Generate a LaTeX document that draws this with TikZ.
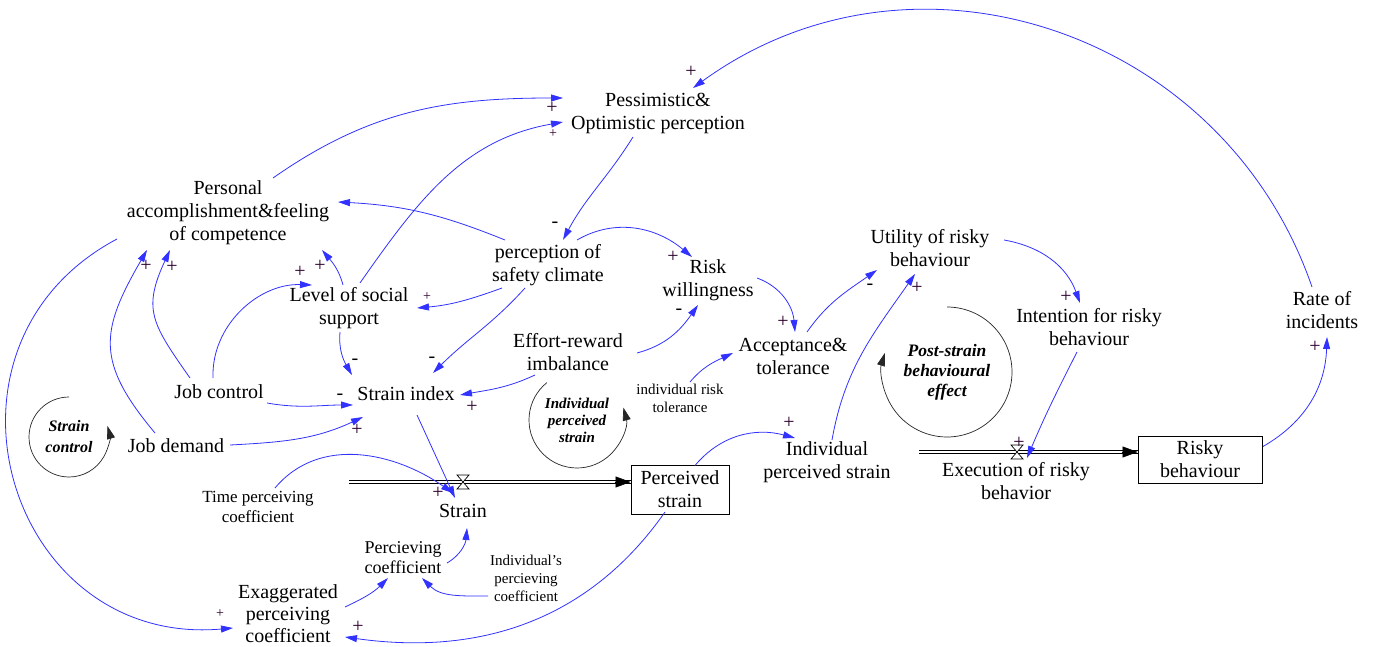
\documentclass[tikz,border=0pt]{standalone}
\usepackage{fontspec}
\setmainfont{Liberation Serif}
\usetikzlibrary{arrows.meta}
\definecolor{cblue}{RGB}{50,50,255}
\definecolor{pl}{RGB}{45,0,45}
\begin{document}
\begin{tikzpicture}[x=1pt,y=1pt,
 lab/.style={font=\fontsize{20}{23}\selectfont, align=center, inner sep=1pt},
 sml/.style={font=\fontsize{15}{18}\selectfont, align=center, inner sep=1pt},
 loopl/.style={font=\bfseries\itshape\fontsize{16}{21}\selectfont, align=center, inner sep=0pt},
 cn/.style={draw=cblue, line width=0.8pt, -{Triangle[length=12pt,width=7pt]}},
 pol/.style={font=\fontsize{20}{20}\selectfont, text=pl, inner sep=0pt},
 spol/.style={font=\fontsize{14}{14}\selectfont, text=pl, inner sep=0pt},
 neg/.style={font=\fontsize{20}{20}\selectfont, inner sep=0pt},
 box/.style={draw, line width=0.8pt, align=center, font=\fontsize{20}{23}\selectfont, inner sep=1pt},
 loopa/.style={draw=black!85, line width=0.7pt, -{Triangle[length=13pt,width=8pt]}},
 pipe/.style={draw=black, line width=0.7pt, double=white, double distance=2.6pt},
 pipetip/.style={draw=black, line width=0.5pt, -{Triangle[length=15pt,width=11pt]}},
 valve/.style={draw=black, line width=0.7pt, fill=white}
]
\fill[white] (0,0) rectangle (1373,646);
\useasboundingbox (0,0) rectangle (1373,646);

% variables
\node[lab] (pess) at (658,533) {Pessimistic\&\\Optimistic perception};
\node[lab] (pers) at (228,433) {Personal\\accomplishment\&feeling\\of competence};
\node[lab] (psc) at (548,381) {perception of\\safety climate};
\node[lab] (risk) at (708,366) {Risk\\willingness};
\node[lab] (lss) at (349,338) {Level of social\\support};
\node[lab] (eri) at (568,294) {Effort-reward\\imbalance};
\node[lab] (acc) at (793,290) {Acceptance\&\\tolerance};
\node[lab] (util) at (930,398) {Utility of risky\\behaviour};
\node[lab] (intent) at (1089,319) {Intention for risky\\behaviour};
\node[lab] (rate) at (1322,336) {Rate of\\incidents};
\node[lab] (jc) at (219,254) {Job control};
\node[lab] (si) at (406,252) {Strain index};
\node[lab] (jd) at (176,200) {Job demand};
\node[sml] (irt) at (680,248) {individual risk\\tolerance};
\node[lab] (ips) at (827,184) {Individual\\perceived strain};
\node[lab] (exec) at (1016,165) {Execution of risky\\behavior};
\node[lab, font=\fontsize{17}{20}\selectfont] (tpc) at (258,139) {Time perceiving\\coefficient};
\node[lab] (strain) at (463,135) {Strain};
\node[lab, font=\fontsize{18}{20}\selectfont] (pc) at (403,88) {Percieving\\coefficient};
\node[sml] (ipc) at (526,68) {Individual's\\percieving\\coefficient};
\node[lab, font=\fontsize{20}{22}\selectfont] (exag) at (288,32) {Exaggerated\\perceiving\\coefficient};

% stocks
\node[box, minimum width=124pt, minimum height=47pt] (rb) at (1200,186.5) {Risky\\behaviour};
\node[box, minimum width=98pt, minimum height=49pt] (ps) at (680,156.5) {Perceived\\strain};

% flows
\coordinate (s1) at (349,164);
\coordinate (s2) at (919,194);
\coordinate (v1) at (463,164);
\coordinate (v2) at (1017,194);
\draw[pipe] (s1) -- ([yshift=7.5pt]ps.west);
\draw[pipetip] ([shift={(-16,7.5)}]ps.west) -- ([yshift=7.5pt]ps.west);
\draw[pipe] (s2) -- ([yshift=7.5pt]rb.west);
\draw[pipetip] ([shift={(-16,7.5)}]rb.west) -- ([yshift=7.5pt]rb.west);
\draw[valve] ([shift={(-6,7)}]v1) -- ([shift={(6,7)}]v1) -- ([shift={(-6,-7)}]v1) -- ([shift={(6,-7)}]v1) -- cycle;
\draw[valve] ([shift={(-6,7)}]v2) -- ([shift={(6,7)}]v2) -- ([shift={(-6,-7)}]v2) -- ([shift={(6,-7)}]v2) -- cycle;

% loops
\node[loopl] (lp1) at (69,209) {Strain\\control};
\draw[loopa] ([shift={(90:40)}]lp1.center) arc[start angle=90,end angle=376,radius=40];
\node[loopl, font=\bfseries\itshape\fontsize{15}{17}\selectfont] (lp2) at (577,226) {Individual\\perceived\\strain};
\draw[loopa] ([shift={(129:48)}]lp2.center) arc[start angle=129,end angle=375,radius=48];
\node[loopl, font=\bfseries\itshape\fontsize{17.5}{20}\selectfont] (lp3) at (947,274) {Post-strain\\behavioural\\effect};
\draw[loopa] ([shift={(90:65)}]lp3.center) arc[start angle=90,end angle=-197,radius=65];

% connectors
\draw[cn] ([shift={(45,35)}]pers.center) to[out=35,in=180] ([shift={(-95,15)}]pess.center);
\draw[cn] ([shift={(11,25)}]lss.center) to[out=55,in=190] ([shift={(-95,-9)}]pess.center);
\draw[cn] ([shift={(-43,25)}]psc.center) to[out=158,in=-3] ([shift={(110,11)}]pers.center);
\draw[cn] ([shift={(-29,14)}]jc.center) to[out=125,in=245,looseness=1.3] ([shift={(-58,-37)}]pers.center);
\draw[cn] ([shift={(-21,13)}]jd.center) to[out=130,in=240,looseness=1.3] ([shift={(-81,-37)}]pers.center);
\draw[cn] ([shift={(-6,14)}]jc.center) to[out=92,in=178] ([shift={(-37,23)}]lss.center);
\draw[cn] ([shift={(-6,23)}]lss.center) to[out=105,in=-50] ([shift={(94,-37)}]pers.center);
\draw[cn] ([shift={(-9,-24)}]lss.center) to[out=265,in=120] ([shift={(-54,19)}]si.center);
\draw[cn] ([shift={(48,-11)}]jc.center) to[out=-10,in=180] ([shift={(-53,-11)}]si.center);
\draw[cn] ([shift={(54,1)}]jd.center) to[out=3,in=205] ([shift={(-43,-23)}]si.center);
\draw[cn] ([shift={(-46,-23)}]psc.center) to[out=200,in=5] ([shift={(68,0)}]lss.center);
\draw[cn] ([shift={(-23,-23)}]psc.center) to[out=228,in=45] ([shift={(27,21)}]si.center);
\draw[cn] ([shift={(-25,-24)}]pess.center) to[out=238,in=62] ([shift={(15,25)}]psc.center);
\draw[cn] ([shift={(29,25)}]psc.center) to[out=30,in=140] ([shift={(-16,23)}]risk.center);
\draw[cn] ([shift={(69,-1)}]eri.center) to[out=15,in=235] ([shift={(-10,-25)}]risk.center);
\draw[cn] ([shift={(49,2)}]risk.center) to[out=-20,in=95] ([shift={(2,24)}]acc.center);
\draw[cn] ([shift={(-33,-23)}]eri.center) to[out=205,in=10] ([shift={(54,-1)}]si.center);
\draw[cn] ([shift={(10,16)}]irt.center) to[out=50,in=205] ([shift={(-60,3)}]acc.center);
\draw[cn] ([shift={(14,24)}]acc.center) to[out=55,in=215] ([shift={(-53,-22)}]util.center);
\draw[cn] ([shift={(5,22)}]ips.center) to[out=80,in=235] ([shift={(-15,-26)}]util.center);
\draw[cn] ([shift={(15,24)}]ps.center) to[out=50,in=165] ([shift={(-32,24)}]ips.center);
\draw[cn] ([shift={(74,8)}]util.center) to[out=-10,in=110] ([shift={(-9,24)}]intent.center);
\draw[cn] ([shift={(-12,-25)}]intent.center) to[out=243,in=67] ([shift={(10,-6)}]v2);
\draw[cn] ([shift={(63,13)}]rb.center) to[out=30,in=268] ([shift={(5,-27)}]rate.center);
\draw[cn] ([shift={(-10,23)}]rate.center) to[out=109,in=36,looseness=1.07] ([shift={(35,25)}]pess.center);
\draw[cn] ([shift={(11,-21)}]si.center) -- ([shift={(-8,13)}]strain.center);
\draw[cn] ([shift={(17,19)}]tpc.center) to[out=50,in=145] ([shift={(-10,18)}]strain.center);
\draw[cn] ([shift={(44,-5)}]pc.center) to[out=30,in=265] ([shift={(4,-17)}]strain.center);
\draw[cn] ([shift={(-38,-18)}]ipc.center) to[out=180,in=-45] ([shift={(19,-20)}]pc.center);
\draw[cn] ([shift={(57,7)}]exag.center) to[out=25,in=225] ([shift={(-15,-20)}]pc.center);
\draw[cn] ([shift={(-15,-22.5)}]ps.center) to[out=235,in=-8] ([shift={(57,-23)}]exag.center);
\draw[cn] ([shift={(-111,-26)}]pers.center) to[out=208,in=185,looseness=1.43] ([shift={(-55,-14)}]exag.center);

% polarities
\node[pol] (p1) at (691,574) {+};
\node[pol] (p2) at (552,538) {+};
\node[spol] (p3) at (553,512) {+};
\node[neg] (p4) at (555,421) {-};
\node[pol] (p5) at (673,389) {+};
\node[neg] (p6) at (679,334) {-};
\node[pol] (p7) at (783,324) {+};
\node[pol] (p8) at (172,379) {+};
\node[pol] (p9) at (146,380) {+};
\node[pol] (p10) at (300,374) {+};
\node[pol] (p11) at (320,380) {+};
\node[spol] (p12) at (427,349) {+};
\node[neg] (p13) at (355,284) {-};
\node[neg] (p14) at (432,286) {-};
\node[neg] (p15) at (340,249) {-};
\node[pol] (p16) at (357,216) {+};
\node[pol] (p17) at (472,239) {+};
\node[neg] (p18) at (870,359) {-};
\node[pol] (p19) at (917,358) {+};
\node[pol] (p20) at (789,223) {+};
\node[pol] (p21) at (1066,349) {+};
\node[pol] (p22) at (1019,203) {+};
\node[pol] (p23) at (1315,299) {+};
\node[pol] (p24) at (438,153) {+};
\node[pol] (p25) at (358,19) {+};
\node[spol] (p26) at (220,32) {+};
\end{tikzpicture}
\end{document}
